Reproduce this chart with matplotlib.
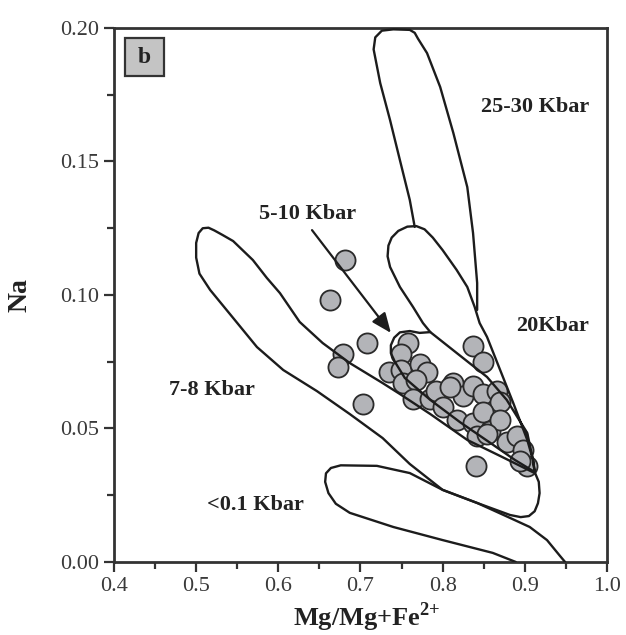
import matplotlib
matplotlib.use("Agg")
import matplotlib.pyplot as plt
from matplotlib.patches import Rectangle
from matplotlib.ticker import MultipleLocator, FormatStrFormatter

plt.rcParams["font.family"] = ["Liberation Serif", "DejaVu Serif"]
plt.rcParams["mathtext.fontset"] = "custom"
plt.rcParams["mathtext.rm"] = "Liberation Serif"
plt.rcParams["mathtext.bf"] = "Liberation Serif:bold"

# --- pyroxene analyses: Mg/(Mg+Fe2+) vs Na ---
mg_number = [0.681, 0.663, 0.679, 0.673, 0.708, 0.703, 0.840,
             0.758, 0.749, 0.735, 0.749, 0.752, 0.772, 0.781, 0.768,
             0.764, 0.785, 0.792, 0.800, 0.813, 0.825, 0.837, 0.849,
             0.866, 0.870, 0.817, 0.837, 0.849, 0.858, 0.842, 0.870,
             0.878, 0.890, 0.898, 0.903, 0.837, 0.849, 0.854, 0.809, 0.894]
na = [0.113, 0.098, 0.078, 0.073, 0.082, 0.059, 0.036,
      0.082, 0.078, 0.071, 0.072, 0.067, 0.074, 0.071, 0.068,
      0.061, 0.061, 0.064, 0.058, 0.067, 0.062, 0.066, 0.063,
      0.064, 0.060, 0.053, 0.052, 0.056, 0.049, 0.047, 0.053,
      0.045, 0.047, 0.042, 0.036, 0.081, 0.075, 0.048, 0.0655, 0.038]

# --- pressure field outlines (x = Mg#, y = Na) ---
field_25_30_x = [0.766, 0.760, 0.748, 0.736, 0.724, 0.716, 0.718, 0.726, 0.740,
                 0.760, 0.766, 0.770, 0.781, 0.797, 0.813, 0.830, 0.837, 0.842, 0.842]
field_25_30_y = [0.1255, 0.1356, 0.1505, 0.1655, 0.1794, 0.1920, 0.1965, 0.1990, 0.1995,
                 0.1993, 0.1982, 0.1960, 0.1906, 0.1779, 0.1607, 0.1404, 0.1232, 0.1045, 0.0944]

field_20_x = [0.912, 0.910, 0.903, 0.886, 0.870, 0.854, 0.845, 0.839, 0.830, 0.817,
              0.800, 0.788, 0.778, 0.768, 0.757, 0.746, 0.738, 0.734, 0.733, 0.736, 0.748,
              0.764, 0.776, 0.785, 0.817, 0.854, 0.878, 0.903, 0.910, 0.912]
field_20_y = [0.0337, 0.0382, 0.0457, 0.0595, 0.0719, 0.0843, 0.0895, 0.0955, 0.1030, 0.1094,
              0.1168, 0.1215, 0.1246, 0.1258, 0.1256, 0.1240, 0.1215, 0.1185, 0.1145, 0.1105,
              0.1030, 0.0955, 0.0895, 0.0861, 0.0783, 0.0693, 0.0607, 0.0483, 0.0382, 0.0337]

field_5_10_x = [0.785, 0.772, 0.760, 0.748, 0.741, 0.737, 0.737, 0.742, 0.754, 0.785,
                0.821, 0.858, 0.888, 0.912]
field_5_10_y = [0.0861, 0.0858, 0.0865, 0.0860, 0.0840, 0.0812, 0.0782, 0.0749, 0.0689, 0.0607,
                0.0524, 0.0446, 0.0382, 0.0337]

field_7_8_x = [0.949, 0.943, 0.927, 0.906, 0.882, 0.842, 0.800, 0.760, 0.727, 0.687,
               0.647, 0.606, 0.574, 0.545, 0.517, 0.504, 0.500, 0.500, 0.503, 0.508, 0.515,
               0.522, 0.532, 0.545, 0.569, 0.586, 0.602, 0.626, 0.654, 0.687, 0.727, 0.748,
               0.785, 0.830, 0.870, 0.912]
field_7_8_y = [0.0000, 0.0022, 0.0082, 0.0131, 0.0165, 0.0221, 0.0270, 0.0367, 0.0464, 0.0554,
               0.0640, 0.0719, 0.0805, 0.0914, 0.1019, 0.1080, 0.1140, 0.1195, 0.1232, 0.1250, 0.1252,
               0.1242, 0.1225, 0.1202, 0.1131, 0.1064, 0.1007, 0.0899, 0.0820, 0.0745, 0.0670, 0.0629,
               0.0554, 0.0457, 0.0397, 0.0333]

field_low_x = [0.889, 0.861, 0.800, 0.740, 0.687, 0.670, 0.661, 0.657, 0.658, 0.664, 0.676,
               0.720, 0.760, 0.800, 0.842, 0.882, 0.895, 0.905, 0.912, 0.916, 0.918, 0.917, 0.912]
field_low_y = [0.0000, 0.0034, 0.0082, 0.0131, 0.0184, 0.0218, 0.0258, 0.0300, 0.0332, 0.0352, 0.0362,
               0.0360, 0.0333, 0.0270, 0.0221, 0.0176, 0.0168, 0.0172, 0.0190, 0.0220, 0.0258, 0.0300, 0.0337]

fields = [(field_25_30_x, field_25_30_y), (field_20_x, field_20_y),
          (field_5_10_x, field_5_10_y), (field_7_8_x, field_7_8_y),
          (field_low_x, field_low_y)]

field_labels = ["25-30 Kbar", "20Kbar", "5-10 Kbar", "7-8 Kbar", "<0.1 Kbar"]
label_x = [0.912, 0.934, 0.635, 0.519, 0.572]
label_y = [0.1704, 0.0884, 0.1303, 0.0644, 0.0213]

INK = "#1c1c1c"
AXIS = "#333333"

fig = plt.figure(figsize=(6.26, 6.35), dpi=100)
ax = fig.add_axes([0.1821, 0.1150, 0.7875, 0.8409])

ax.scatter(mg_number, na, s=210, facecolor="#b3b4b8", edgecolor="#2a2a2a",
           linewidth=1.3, zorder=2)

for fx, fy in fields:
    ax.plot(fx, fy, color=INK, lw=1.7, solid_joinstyle="round",
            solid_capstyle="round", zorder=3)

for txt, lx, ly in zip(field_labels, label_x, label_y):
    ax.text(lx, ly, txt, ha="center", va="center", fontsize=16,
            fontweight="bold", color="#222222", zorder=4)

# arrow from the 5-10 Kbar label to its field
ax.annotate("", xy=(0.737, 0.0858), xytext=(0.641, 0.1243),
            arrowprops=dict(arrowstyle="-|>,head_length=1.2,head_width=0.5",
                            color=INK, lw=1.6, shrinkA=0, shrinkB=0),
            zorder=4)

# panel tag
ax.add_patch(Rectangle((0.0223, 0.910), 0.079, 0.0712, transform=ax.transAxes,
                       facecolor="#c4c4c4", edgecolor=AXIS, lw=1.6, zorder=5))
ax.text(0.0618, 0.944, "b", transform=ax.transAxes, ha="center", va="center",
        fontsize=17, fontweight="bold", color="#222222", zorder=6)

ax.set_xlim(0.4, 1.0)
ax.set_ylim(0.0, 0.20)
ax.xaxis.set_major_locator(MultipleLocator(0.1))
ax.xaxis.set_minor_locator(MultipleLocator(0.05))
ax.yaxis.set_major_locator(MultipleLocator(0.05))
ax.yaxis.set_minor_locator(MultipleLocator(0.025))
ax.xaxis.set_major_formatter(FormatStrFormatter("%.1f"))
ax.yaxis.set_major_formatter(FormatStrFormatter("%.2f"))

ax.tick_params(which="both", direction="out", top=False, right=False,
               color=AXIS, width=1.6, labelsize=16, labelcolor="#3a3a3a", pad=4)
ax.tick_params(which="major", length=7)
ax.tick_params(which="minor", length=5)
for side in ["left", "bottom", "top", "right"]:
    ax.spines[side].set_color(AXIS)
    ax.spines[side].set_linewidth(2.0)

ax.set_xlabel(r"Mg/Mg+Fe$^{\mathbf{2{+}}}$", fontsize=19, fontweight="bold", color="#222222")
ax.set_ylabel("Na", fontsize=20, fontweight="bold", color="#222222")
ax.xaxis.set_label_coords(0.513, -0.072)
ax.yaxis.set_label_coords(-0.165, 0.5)

fig.savefig("out.png", dpi=100)
